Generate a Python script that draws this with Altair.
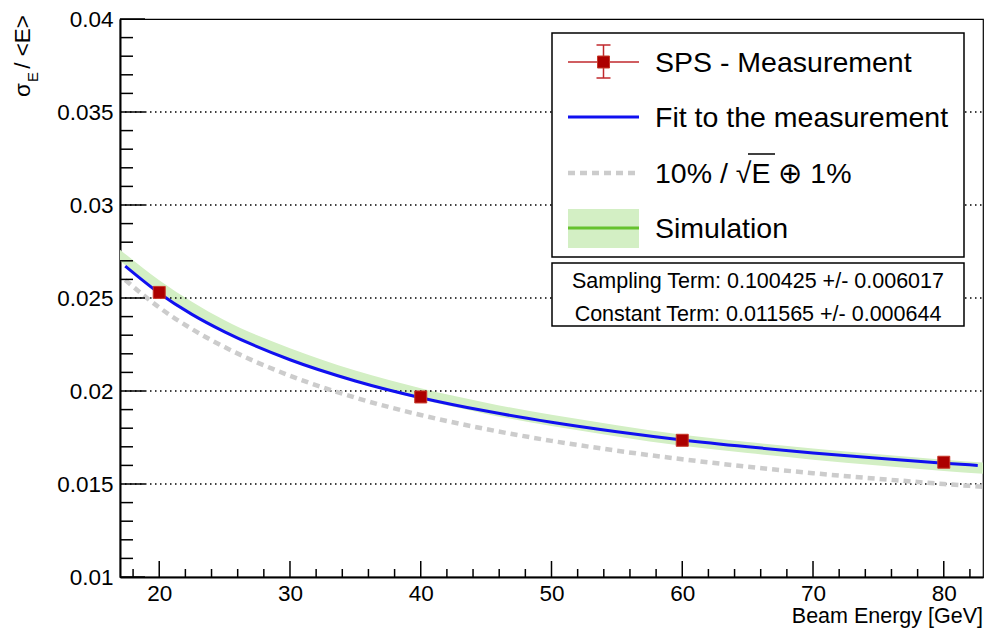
import altair as alt
import pandas as pd

# ---------------- data ----------------
meas_E = [20, 40, 60, 80]
meas_res = [0.02530, 0.01968, 0.01735, 0.01617]

fit_E = [17.4, 20, 22.5, 25, 30, 35, 40, 45, 50, 55, 60, 65, 70, 75, 80, 82.6]
fit_res = [0.02671, 0.02526, 0.02412, 0.02318, 0.02168, 0.02054, 0.01964, 0.01892,
           0.01832, 0.01781, 0.01737, 0.01700, 0.01667, 0.01638, 0.01612, 0.01600]

ref_E = [17.4, 20, 22.5, 25, 30, 35, 40, 45, 50, 55, 60, 65, 70, 75, 80, 83]
ref_res = [0.02597, 0.02449, 0.02333, 0.02236, 0.02082, 0.01964, 0.01871, 0.01795,
           0.01732, 0.01679, 0.01633, 0.01593, 0.01558, 0.01528, 0.01500, 0.01485]

sim_E = [17, 20, 25, 30, 35, 40, 45, 50, 55, 60, 65, 70, 75, 80, 83]
sim_lo = [0.02700, 0.02535, 0.02320, 0.02170, 0.02050, 0.01955, 0.01877, 0.01812,
          0.01756, 0.01705, 0.01666, 0.01631, 0.01600, 0.01570, 0.01555]
sim_hi = [0.02760, 0.02595, 0.02380, 0.02230, 0.02110, 0.02015, 0.01937, 0.01872,
          0.01816, 0.01765, 0.01726, 0.01691, 0.01660, 0.01630, 0.01615]

x_major = [20, 30, 40, 50, 60, 70, 80]
x_minor = [18, 22, 24, 26, 28, 32, 34, 36, 38, 42, 44, 46, 48, 52, 54, 56, 58,
           62, 64, 66, 68, 72, 74, 76, 78, 82]
y_major = [0.01, 0.015, 0.02, 0.025, 0.03, 0.035, 0.04]
y_minor = [0.011, 0.012, 0.013, 0.014, 0.016, 0.017, 0.018, 0.019, 0.021, 0.022,
           0.023, 0.024, 0.026, 0.027, 0.028, 0.029, 0.031, 0.032, 0.033, 0.034,
           0.036, 0.037, 0.038, 0.039]
y_grid = [0.015, 0.02, 0.025, 0.03, 0.035]

legend_labels = ["SPS - Measurement", "Fit to the measurement", "10% / √E ⊕ 1%", "Simulation"]
stats_lines = ["Sampling Term: 0.100425 +/- 0.006017", "Constant Term: 0.011565 +/- 0.000644"]
x_title = "Beam Energy [GeV]"

# ---------------- layout ----------------
W, H = 863, 558
FONT = "Liberation Sans"
XD = [17, 83]
YD = [0.01, 0.04]

xs = alt.Scale(domain=XD, nice=False, zero=False)
ys = alt.Scale(domain=YD, nice=False, zero=False)

one = pd.DataFrame({"k": [0]})


def prule(x1, y1, x2, y2, color, width, dash=None):
    kw = dict(color=color, strokeWidth=width)
    if dash:
        kw["strokeDash"] = dash
    return alt.Chart(one).mark_rule(**kw).encode(
        x=alt.value(x1), x2=alt.value(x2), y=alt.value(y1), y2=alt.value(y2))


def ptext(txt, x, y, size, align="left", baseline="middle", angle=0, color="black"):
    kw = dict(text=txt, font=FONT, fontSize=size, align=align, baseline=baseline, color=color)
    if angle:
        kw["angle"] = angle
    return alt.Chart(one).mark_text(**kw).encode(x=alt.value(x), y=alt.value(y))


def prect(x1, y1, x2, y2, fill, stroke=None, sw=0):
    kw = dict(fill=fill)
    if stroke:
        kw["stroke"] = stroke
        kw["strokeWidth"] = sw
    return alt.Chart(one).mark_rect(**kw).encode(
        x=alt.value(x1), x2=alt.value(x2), y=alt.value(y1), y2=alt.value(y2))


sim_df = pd.DataFrame({"E": sim_E, "lo": sim_lo, "hi": sim_hi})
fit_df = pd.DataFrame({"E": fit_E, "r": fit_res})
ref_df = pd.DataFrame({"E": ref_E, "r": ref_res})
meas_df = pd.DataFrame({"E": meas_E, "r": meas_res})

xaxis = alt.Axis(values=x_major, ticks=False, grid=False, title=None, labelFont=FONT,
                 labelFontSize=22.5, labelColor="black", labelPadding=5,
                 domainColor="black", domainWidth=2)
yaxis = alt.Axis(values=y_major, ticks=False, grid=False, title=None, labelFont=FONT,
                 labelFontSize=22.5, labelColor="black", labelPadding=7, format="~g",
                 domainColor="black", domainWidth=2)

band = alt.Chart(sim_df).mark_area(color="#d3efc4", interpolate="monotone").encode(
    x=alt.X("E:Q", scale=xs, axis=xaxis),
    y=alt.Y("lo:Q", scale=ys, axis=yaxis),
    y2="hi:Q",
)

grid = alt.Chart(pd.DataFrame({"g": y_grid})).mark_rule(
    color="black", strokeWidth=1.3, strokeDash=[1.5, 3.5]).encode(
    y=alt.Y("g:Q", scale=ys), x=alt.value(0), x2=alt.value(W))

ref_line = alt.Chart(ref_df).mark_line(
    color="#cccccc", strokeWidth=4.5, strokeDash=[7, 5], interpolate="monotone").encode(
    x=alt.X("E:Q", scale=xs), y=alt.Y("r:Q", scale=ys))

fit_line = alt.Chart(fit_df).mark_line(
    color="#1010f0", strokeWidth=3, interpolate="monotone").encode(
    x=alt.X("E:Q", scale=xs), y=alt.Y("r:Q", scale=ys))

points = alt.Chart(meas_df).mark_point(
    shape="square", filled=True, size=144, fill="#ac0000", stroke="#c63a2a",
    strokeWidth=1, opacity=1).encode(
    x=alt.X("E:Q", scale=xs), y=alt.Y("r:Q", scale=ys))

ymaj = alt.Chart(pd.DataFrame({"t": y_major})).mark_rule(color="black", strokeWidth=1.5).encode(
    y=alt.Y("t:Q", scale=ys), x=alt.value(0), x2=alt.value(25))
ymin = alt.Chart(pd.DataFrame({"t": y_minor})).mark_rule(color="black", strokeWidth=1.5).encode(
    y=alt.Y("t:Q", scale=ys), x=alt.value(0), x2=alt.value(13))
xmaj = alt.Chart(pd.DataFrame({"t": x_major})).mark_rule(color="black", strokeWidth=1.5).encode(
    x=alt.X("t:Q", scale=xs), y=alt.value(H), y2=alt.value(H - 16))
xmin = alt.Chart(pd.DataFrame({"t": x_minor})).mark_rule(color="black", strokeWidth=1.5).encode(
    x=alt.X("t:Q", scale=xs), y=alt.value(H), y2=alt.value(H - 8))

# ---------------- legend (pixel positions inside plot area) ----------------
LX1, LX2 = 432, 844
SX1, SX2 = 448, 519
SXC = (SX1 + SX2) / 2
TX = 535
ey = [43, 98, 154, 209]
leg = [prect(LX1, 14, LX2, 238, "white", "black", 1.5)]
# entry 1: measurement with error bars
leg += [
    prule(SX1, ey[0], SX2, ey[0], "#c0282d", 1.5),
    prule(SXC, ey[0] - 17, SXC, ey[0] + 16, "#c0282d", 1.5),
    prule(SXC - 7, ey[0] - 17, SXC + 7, ey[0] - 17, "#c0282d", 1.5),
    prule(SXC - 7, ey[0] + 16, SXC + 7, ey[0] + 16, "#c0282d", 1.5),
    prect(SXC - 6, ey[0] - 6, SXC + 6, ey[0] + 6, "#ac0000", "#c63a2a", 1),
]
# entry 2: fit line
leg += [prule(SX1, ey[1], SX2, ey[1], "#1010f0", 3)]
# entry 3: dashed reference
leg += [prule(SX1, ey[2], SX2, ey[2], "#cccccc", 4.5, [7, 5])]
# entry 4: simulation band + line
leg += [prect(SX1, ey[3] - 19, SX2, ey[3] + 20, "#d3efc4"),
        prule(SX1, ey[3], SX2, ey[3], "#66c22e", 3)]
for lab, yy in zip(legend_labels, ey):
    leg.append(ptext(lab, TX, yy + 1, 28.5))
# overline of the square root
leg.append(prule(628, ey[2] - 19, 655, ey[2] - 19, "black", 1.5))

# stats box
stats = [prect(LX1, 244, LX2, 307, "white", "black", 1.5)]
for s, yy in zip(stats_lines, [263, 296]):
    stats.append(ptext(s, (LX1 + LX2) / 2, yy, 21.5, align="center"))

# axis titles
titles = [
    ptext(x_title, W, H + 46, 21.5, align="right", baseline="alphabetic"),
    ptext("/ <E>", -90, -4, 22.5, align="right", baseline="alphabetic", angle=270),
    ptext("E", -82, 53, 15, align="right", baseline="alphabetic", angle=270),
    ptext("σ", -90, 64, 22.5, align="right", baseline="alphabetic", angle=270),
]

chart = alt.layer(
    band, grid, ref_line, fit_line, points, ymaj, ymin, xmaj, xmin,
    *leg, *stats, *titles
).properties(
    width=W, height=H,
    padding={"left": 120, "top": 19, "right": 4, "bottom": 51},
    autosize=alt.AutoSizeParams(type="none"),
    background="white",
).configure_view(stroke="black", strokeWidth=1.2)

chart.save("out.html", embed_options={"renderer": "svg", "actions": False})
